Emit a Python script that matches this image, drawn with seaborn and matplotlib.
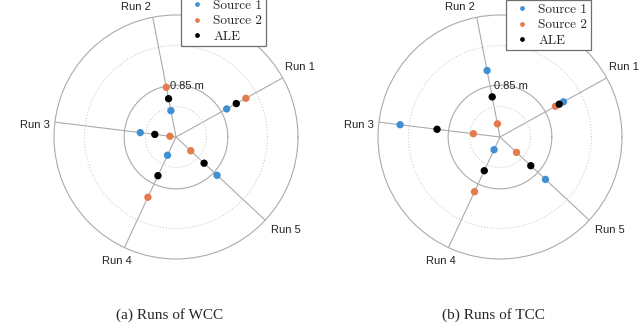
import numpy as np
import pandas as pd
import matplotlib
matplotlib.use("Agg")
import matplotlib.pyplot as plt
import seaborn as sns

# run directions (deg) and labels
run_labels = ["Run 1", "Run 2", "Run 3", "Run 4", "Run 5"]
run_angles = [29, 101, 173, 245, 317]

# distances (m)
wcc_source1 = [0.95, 0.44, 0.59, 0.33, 0.92]
wcc_source2 = [1.31, 0.83, 0.10, 1.09, 0.33]
wcc_ale = [1.13, 0.64, 0.35, 0.70, 0.63]

tcc_source1 = [1.19, 1.11, 1.65, 0.23, 1.02]
tcc_source2 = [1.04, 0.22, 0.44, 0.99, 0.37]
tcc_ale = [1.11, 0.67, 1.04, 0.61, 0.69]

captions = ["(a) Runs of WCC", "(b) Runs of TCC"]
series_names = ["Source 1", "Source 2", "ALE"]
colors = {"Source 1": "#3f90d3", "Source 2": "#e37b4c", "ALE": "#000000"}

r_max = 2.0
r_ring = 0.85

# where the run names sit (angle in deg, radius in m), matlab-like placement
label_theta = [29.4, 107, 175, 244.6, 320]
label_r = [2.33, 2.23, 2.32, 2.25, 2.36]


def make_frame(s1, s2, ale):
    rows = []
    for name, vals in zip(series_names, [s1, s2, ale]):
        for lab, ang, v in zip(run_labels, run_angles, vals):
            rows.append({"run": lab, "theta": np.deg2rad(ang), "r": v, "series": name})
    return pd.DataFrame(rows)


sns.set_style("white")
plt.rcParams["font.family"] = ["Liberation Sans", "DejaVu Sans"]

fig = plt.figure(figsize=(6.4, 3.36), dpi=100)

# (data, axes left px, legend left px, legend bottom px from top)
panels = [
    (make_frame(wcc_source1, wcc_source2, wcc_ale), 54, 181, 46),
    (make_frame(tcc_source1, tcc_source2, tcc_ale), 378, 506, 50),
]

for i, (df, left_px, leg_px, leg_bot) in enumerate(panels):
    ax = fig.add_axes([left_px / 640, 77 / 336, 244 / 640, 244 / 336], projection="polar")
    ax.set_facecolor("none")
    sns.scatterplot(data=df, x="theta", y="r", hue="series", hue_order=series_names,
                    palette=colors, s=28, edgecolor="none", linewidth=0, ax=ax, zorder=5,
                    clip_on=False)
    ax.set_ylim(0, r_max)
    ax.set_thetagrids(run_angles, [""] * len(run_angles))
    ax.set_rgrids([0.5, r_ring, 1.5], ["", "", ""])
    ax.set_xlabel("")
    ax.set_ylabel("")
    ax.grid(True)
    for gl in ax.xaxis.get_gridlines():
        gl.set_color("#ababab")
        gl.set_linestyle("-")
        gl.set_linewidth(0.8)
    for k, gl in enumerate(ax.yaxis.get_gridlines()):
        if k == 1:
            gl.set_color("#ababab")
            gl.set_linestyle("-")
            gl.set_linewidth(0.8)
        else:
            gl.set_color("#d0d0d0")
            gl.set_linestyle(":")
            gl.set_linewidth(0.8)
    ax.spines["polar"].set_color("#ababab")
    ax.spines["polar"].set_linewidth(0.8)

    # run names and ring label
    for lab, th, rr in zip(run_labels, label_theta, label_r):
        ax.text(np.deg2rad(th), rr, lab, fontsize=8, ha="center", va="center",
                color="#222222", clip_on=False)
    ax.text(np.deg2rad(97), r_ring, "0.85 m", fontsize=8, ha="left", va="center",
            color="#222222", zorder=6)

    sns.move_legend(ax, "lower left", bbox_to_anchor=(leg_px / 640, 1 - leg_bot / 336),
                    bbox_transform=fig.transFigure, title=None, frameon=True,
                    fancybox=False, framealpha=1, edgecolor="#6e6e6e",
                    borderaxespad=0, borderpad=0.25, labelspacing=0.25,
                    handletextpad=0.3, handlelength=1.9, markerscale=0.65,
                    prop={"family": "cmr10", "size": 9.5})
    ax.get_legend().get_frame().set_linewidth(0.9)

    fig.text((left_px + 122) / 640 - 0.01, 1 - 315 / 336, captions[i],
             family="Liberation Serif", fontsize=11, ha="center", va="center")

fig.savefig("out.png", dpi=100)
